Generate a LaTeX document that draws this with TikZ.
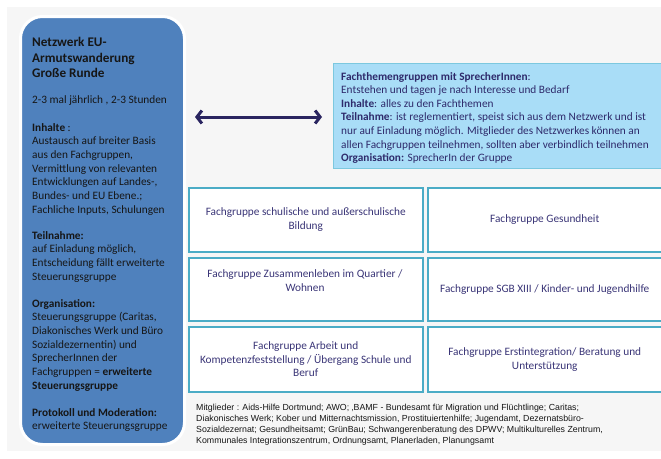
\documentclass[tikz,border=0pt]{standalone}
\usepackage{fontspec}
\setmainfont{Carlito}
\newfontfamily\arialfont{Liberation Sans}
\usetikzlibrary{arrows.meta}
\definecolor{bgray}{HTML}{F6F6F6}
\definecolor{boxblue}{HTML}{4F81BD}
\definecolor{lightblue}{HTML}{A9DDF7}
\definecolor{lbborder}{HTML}{7CC8DF}
\definecolor{navy}{HTML}{2A2560}
\definecolor{cyanb}{HTML}{4BACC6}
\definecolor{fgtext}{HTML}{3A3577}
\definecolor{lbtext}{HTML}{2E2A6B}
\definecolor{darktext}{HTML}{161616}
\begin{document}
\begin{tikzpicture}[x=1pt,y=-1pt,
  lefttext/.style={anchor=base west, align=left, inner sep=0pt, text=darktext,
    font=\fontsize{11.3}{13.7}\selectfont},
  titletext/.style={anchor=base west, align=left, inner sep=0pt, text=darktext,
    font=\fontsize{13.2}{15.6}\selectfont\bfseries},
  fthtext/.style={anchor=base west, align=left, inner sep=0pt, text=lbtext,
    font=\fontsize{11.3}{13.6}\selectfont},
  fgbox/.style={draw=cyanb, line width=1.5pt, fill=white, anchor=north west,
    inner sep=0pt, text=fgtext, align=center, minimum width=234pt,
    font=\fontsize{11.3}{13.8}\selectfont},
  fglabel/.style={inner sep=0pt, text=fgtext, align=center,
    font=\fontsize{11.3}{13.8}\selectfont},
  membertext/.style={anchor=base west, align=left, inner sep=0pt, text=darktext,
    font=\arialfont\fontsize{8.8}{11}\selectfont},
  biarrow/.style={line width=3pt, draw=navy,
    {Straight Barb[length=5pt,width=13pt]}-{Straight Barb[length=5pt,width=13pt]}}
]
\useasboundingbox (0,0) rectangle (661,458);
\fill[bgray] (7,7) rectangle (661,451);

% left box (anchors base west = baseline of last line)
\node[draw=white, line width=3pt, fill=boxblue, rounded corners=22pt,
  minimum width=164pt, minimum height=428pt, anchor=north west, inner sep=0pt] (netz) at (19,15) {};
\node[titletext] (title) at (32,77.7) {Netzwerk EU-\\Armutswanderung\\Große Runde};
\node[lefttext] (freq) at (32,103) {2-3 mal jährlich , 2-3 Stunden};
\node[lefttext] (inh) at (32,213.2) {\textbf{Inhalte} :\\Austausch auf breiter Basis\\aus den Fachgruppen,\\Vermittlung von relevanten\\Entwicklungen auf Landes-,\\Bundes- und EU Ebene.;\\Fachliche Inputs, Schulungen};
\node[lefttext] (teil) at (32,280.1) {\textbf{Teilnahme:}\\auf Einladung möglich,\\Entscheidung fällt erweiterte\\Steuerungsgruppe};
\node[lefttext] (org) at (32,389.2) {\textbf{Organisation:}\\Steuerungsgruppe (Caritas,\\Diakonisches Werk und Büro\\Sozialdezernentin) und\\SprecherInnen der\\Fachgruppen = \textbf{erweiterte}\\\textbf{Steuerungsgruppe}};
\node[lefttext] (prot) at (32,429.7) {\textbf{Protokoll und Moderation:}\\erweiterte Steuerungsgruppe};

% Fachthemengruppen box
\node[draw=lbborder, fill=lightblue, line width=1pt, minimum width=332pt, minimum height=105pt,
  anchor=north west, inner sep=0pt] (fth) at (333,63) {};
\node[fthtext] (fthtxt) at (341,161.6) {\textbf{Fachthemengruppen mit SprecherInnen}:\\Entstehen und tagen je nach Interesse und Bedarf\\\textbf{Inhalte}: alles zu den Fachthemen\\\textbf{Teilnahme}: ist reglementiert, speist sich aus dem Netzwerk und ist\\nur auf Einladung möglich. Mitglieder des Netzwerkes können an\\allen Fachgruppen teilnehmen, sollten aber verbindlich teilnehmen\\\textbf{Organisation:} SprecherIn der Gruppe};

% arrow
\coordinate (arrL) at (195,117);
\coordinate (arrR) at (322,117);
\draw[biarrow] (arrL) -- (arrR);

% Fachgruppen
\node[fgbox, minimum height=64pt] (fg1) at (188,187) {Fachgruppe schulische und außerschulische\\Bildung};
\node[fgbox, minimum height=64pt] (fg2) at (427,187) {Fachgruppe Gesundheit};
\node[fgbox, minimum height=63pt] (fg3) at (188,257) {};
\node[fglabel] (fg3txt) at (305,281) {Fachgruppe Zusammenleben im Quartier /\\Wohnen};
\node[fgbox, minimum height=63pt] (fg4) at (427,257) {Fachgruppe SGB XIII / Kinder- und Jugendhilfe};
\node[fgbox, minimum height=65pt] (fg5) at (188,326) {Fachgruppe Arbeit und\\Kompetenzfeststellung / Übergang Schule und\\Beruf};
\node[fgbox, minimum height=65pt] (fg6) at (427,326) {Fachgruppe Erstintegration/ Beratung und\\Unterstützung};

% Mitglieder
\node[membertext] (mitgl) at (196,443) {Mitglieder : Aids-Hilfe Dortmund; AWO; ‚BAMF - Bundesamt für Migration und Flüchtlinge; Caritas;\\Diakonisches Werk; Kober und Mitternachtsmission, Prostituiertenhilfe; Jugendamt, Dezernatsbüro-\\Sozialdezernat; Gesundheitsamt; GrünBau; Schwangerenberatung des DPWV; Multikulturelles Zentrum,\\Kommunales Integrationszentrum, Ordnungsamt, Planerladen, Planungsamt};
\end{tikzpicture}
\end{document}
